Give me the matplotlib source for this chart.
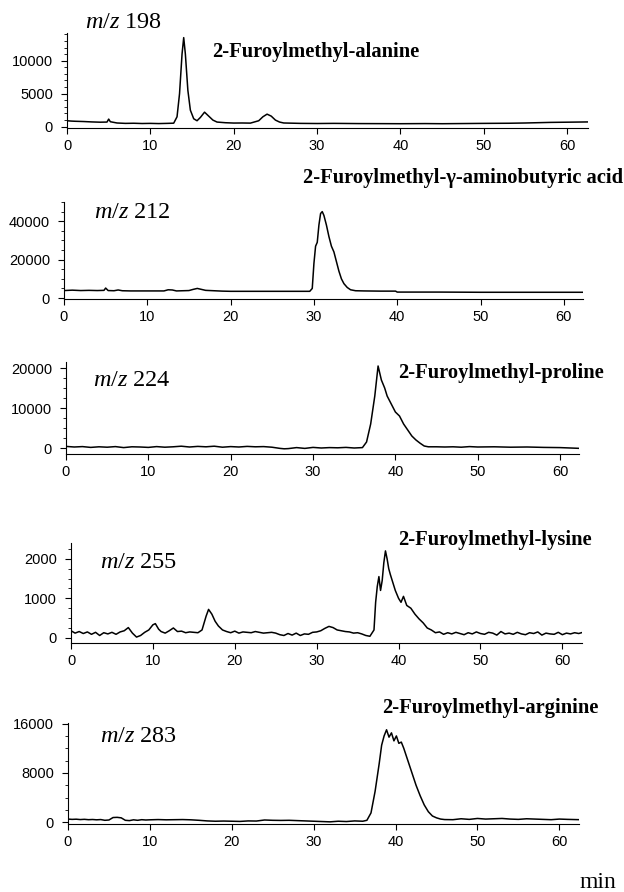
import numpy as np
import matplotlib
matplotlib.use('Agg')
import matplotlib.pyplot as plt
from matplotlib.ticker import MultipleLocator

plt.rcParams['font.family'] = ['Liberation Sans', 'DejaVu Sans']
plt.rcParams['mathtext.fontset'] = 'custom'
plt.rcParams['mathtext.rm'] = 'Liberation Serif'
plt.rcParams['mathtext.it'] = 'Liberation Serif:italic'

# ---- data (time in min, intensity in counts) ----
t_198 = [0, 0.5, 1, 2, 3, 4, 4.8, 5.0, 5.2, 6, 7, 8, 9, 10, 11, 12, 12.8, 13.2, 13.5, 13.8,
         14.0, 14.2, 14.5, 14.8, 15.2, 15.6, 16.0, 16.5, 17.0, 17.5, 18.0, 19, 20, 21, 22, 23,
         23.5, 24.0, 24.5, 25.0, 25.5, 26, 28, 30, 32, 35, 38, 40, 43, 45, 48, 50, 53, 55, 58, 60, 62.5]
i_198 = [900, 850, 820, 780, 720, 680, 700, 1150, 750, 560, 500, 520, 480, 500, 470, 500, 530, 1500, 5000, 11000,
         13500, 11000, 5500, 2500, 1200, 900, 1400, 2200, 1600, 1000, 700, 600, 550, 560, 540, 900,
         1500, 1900, 1600, 1000, 700, 560, 500, 480, 500, 470, 460, 450, 470, 450, 480, 500, 520, 560, 650, 680, 720]

t_212 = [0, 1, 2, 3, 4, 4.8, 5.0, 5.3, 6, 6.5, 7, 8, 10, 12, 12.5, 13, 13.5, 15, 15.5, 16, 16.5, 17, 18, 19,
         20, 24, 28, 29.5, 29.8, 30.0, 30.2, 30.4, 30.6, 30.8, 31.0, 31.2, 31.5, 31.8, 32.1, 32.4, 32.7,
         33.0, 33.3, 33.6, 34.0, 34.4, 35, 36, 38, 39.8, 40, 45, 50, 55, 60, 62.5]
i_212 = [3900, 4100, 3900, 4000, 3900, 4000, 5200, 3900, 3800, 4200, 3800, 3700, 3700, 3700, 4300, 4200, 3700,
         3900, 4500, 5000, 4500, 4000, 3800, 3600,
         3500, 3500, 3500, 3500, 5000, 18000, 27000, 29000, 38000, 44000, 45000, 43000, 38000, 32000, 27000, 24000, 19000,
         14000, 10000, 7500, 5500, 4300, 3800, 3700, 3600, 3600, 3100, 3100, 3000, 3000, 3000, 3000]

t_224 = [0, 1, 2, 3, 4, 5, 6, 7, 8, 9, 10, 11, 12, 13, 14, 15, 16, 17, 18, 19, 20, 21, 22, 23, 24, 25, 26,
         26.5, 27, 28, 29, 30, 31, 32, 33, 34, 35, 36, 36.5, 37.0, 37.5, 37.9, 38.3, 38.7, 39.0, 39.5, 40.0,
         40.5, 41.0, 41.5, 42.0, 42.5, 43.0, 43.5, 44, 45, 46, 47, 48, 49, 50, 52, 54, 56, 58, 60, 62.5]
i_224 = [400, 250, 350, 150, 300, 200, 350, 100, 300, 250, 150, 350, 200, 300, 450, 250, 400, 300, 450, 200, 350,
         250, 400, 300, 350, 200, -100, -200, -150, 100, -100, 150, 0, 100, 50, 150, 0, 100, 1500, 6000, 13000,
         20500, 17000, 15000, 13000, 11000, 9000, 8000, 6000, 4500, 3000, 2000, 1200, 500, 300, 300, 250, 300, 200,
         350, 250, 300, 200, 250, 150, 100, -100]

t_255 = [0, 0.5, 1, 1.5, 2, 2.5, 3, 3.5, 4, 4.5, 5, 5.5, 6, 6.5, 7, 7.5, 8, 8.5, 9, 9.5, 10, 10.3, 10.7, 11,
         11.5, 12, 12.5, 13, 13.5, 14, 14.5, 15, 15.5, 16, 16.5, 16.8, 17.2, 17.6, 18, 18.5, 19, 19.5, 20,
         20.5, 21, 21.5, 22, 22.5, 23, 23.5, 24, 24.5, 25, 25.5, 26, 26.5, 27, 27.5, 28, 28.5, 29, 29.5, 30,
         30.5, 31, 31.5, 32, 32.5, 33, 33.5, 34, 34.5, 35, 35.5, 36, 36.5, 37, 37.2, 37.4, 37.6, 37.8, 38.0,
         38.2, 38.4, 38.6, 38.8, 39.0, 39.3, 39.6, 40.0, 40.3, 40.6, 41.0, 41.5, 42.0, 42.5, 43.0, 43.5, 44.0,
         44.5, 45, 45.5, 46, 46.5, 47, 47.5, 48, 48.5, 49, 49.5, 50, 50.5, 51, 51.5, 52, 52.5, 53, 53.5, 54,
         54.5, 55, 55.5, 56, 56.5, 57, 57.5, 58, 58.5, 59, 59.5, 60, 60.5, 61, 61.5, 62, 62.5]
i_255 = [180, 120, 160, 110, 150, 90, 140, 60, 130, 100, 140, 90, 150, 180, 260, 120, 20, 60, 140, 200, 330,
         360, 220, 160, 120, 180, 250, 160, 170, 130, 150, 140, 130, 200, 550, 720, 600, 420, 300, 200, 160,
         130, 170, 120, 150, 140, 130, 160, 140, 120, 130, 140, 120, 80, 60, 110, 70, 120, 60, 100, 90, 140,
         150, 180, 240, 290, 260, 200, 180, 160, 150, 120, 130, 100, 60, 40, 200, 900, 1300, 1550, 1200, 1450,
         1900, 2200, 2000, 1750, 1600, 1400, 1200, 1000, 900, 1050, 820, 750, 600, 480, 380, 250, 200, 130, 150,
         90, 130, 100, 140, 110, 80, 130, 100, 150, 110, 90, 140, 120, 70, 160, 100, 120, 90, 140, 100, 80, 130,
         110, 150, 70, 120, 100, 90, 140, 80, 120, 100, 130, 110, 140]

t_283 = [0, 0.5, 1, 1.5, 2, 2.5, 3, 3.5, 4, 4.5, 5, 5.5, 6, 6.5, 7, 7.5, 8, 8.5, 9, 9.5, 10, 11, 12, 13, 14,
         15, 16, 17, 18, 19, 20, 21, 22, 23, 24, 25, 26, 27, 28, 29, 30, 31, 32, 33, 34, 35, 36, 36.5, 37,
         37.5, 38, 38.3, 38.6, 38.9, 39.2, 39.5, 39.8, 40.1, 40.4, 40.7, 41, 41.5, 42, 42.5, 43, 43.5, 44,
         44.5, 45, 45.5, 46, 47, 48, 49, 50, 51, 52, 53, 54, 55, 56, 57, 58, 59, 60, 61, 62.5]
i_283 = [500, 450, 480, 420, 460, 400, 430, 380, 420, 300, 350, 750, 780, 700, 300, 250, 380, 300, 400, 350,
         380, 420, 380, 400, 420, 380, 300, 200, 150, 180, 150, 120, 200, 180, 350, 300, 280, 300, 250, 200,
         150, 100, 50, 150, 100, 200, 150, 300, 1500, 5000, 9500, 12500, 14000, 15000, 13800, 14500, 13200,
         14000, 12800, 13000, 12000, 10000, 8000, 6000, 4300, 2800, 1700, 1000, 700, 500, 420, 400, 550,
         450, 600, 500, 550, 600, 500, 450, 550, 500, 450, 400, 500, 450, 400]

series = [t_198, t_212, t_224, t_255, t_283]
values = [i_198, i_212, i_224, i_255, i_283]
mz_labels = ['198', '212', '224', '255', '283']
compounds = ['2-Furoylmethyl-alanine', '2-Furoylmethyl-\u03b3-aminobutyric acid',
             '2-Furoylmethyl-proline', '2-Furoylmethyl-lysine', '2-Furoylmethyl-arginine']
yticks = [[0, 5000, 10000], [0, 20000, 40000], [0, 10000, 20000], [0, 1000, 2000], [0, 8000, 16000]]

# ---- layout (pixel boxes measured on the 624 x 892 original) ----
W, H = 624, 892
boxes = [(67, 588, 33, 128), (64, 583, 202, 299), (66, 579, 362, 454),
         (71, 582, 543, 643), (68, 579, 723, 824)]
ylims = [(-200, 14200), (-500, 50000), (-1500, 21500), (-130, 2400), (-300, 16100)]
xmax = [62.5, 62.3, 62.3, 62.4, 62.4]
minor_y = [1000, 5000, 2500, 250, 2000]
mz_pos = [(85, 22), (94, 213), (93, 380), (100, 562), (100, 737)]
cmp_pos = [(212, 52), (303, 178), (398, 373), (398, 540), (382, 708)]

fig = plt.figure(figsize=(W / 100, H / 100), dpi=100)

for k in range(5):
    l, r, t, b = boxes[k]
    ax = fig.add_axes([l / W, 1 - b / H, (r - l) / W, (b - t) / H])
    ax.plot(series[k], values[k], color='black', lw=1.1)
    ax.set_xlim(0, xmax[k])
    ax.set_ylim(*ylims[k])
    ax.set_xticks([0, 10, 20, 30, 40, 50, 60])
    ax.set_yticks(yticks[k])
    ax.yaxis.set_minor_locator(MultipleLocator(minor_y[k]))
    for s in ['top', 'right']:
        ax.spines[s].set_visible(False)
    for s in ['left', 'bottom']:
        ax.spines[s].set_linewidth(0.8)
    ax.tick_params(axis='x', which='major', labelsize=10.5, length=4, width=0.8, pad=4)
    ax.tick_params(axis='y', which='major', labelsize=10.5, length=4, width=0.8, pad=6)
    ax.tick_params(axis='y', which='minor', length=2, width=0.6)

    x0, y0 = mz_pos[k]
    fig.text(x0 / W, 1 - y0 / H, r'$\mathit{m/z}$ ' + mz_labels[k], fontsize=17.5,
             family='Liberation Serif', va='center', ha='left')
    x1, y1 = cmp_pos[k]
    fig.text(x1 / W, 1 - y1 / H, compounds[k], fontsize=14.8, fontweight='bold',
             family='Liberation Serif', va='center', ha='left')

fig.text(598 / W, 1 - 883 / H, 'min', fontsize=17, family='Liberation Serif', ha='center', va='center')

plt.savefig('out.png', dpi=100)
